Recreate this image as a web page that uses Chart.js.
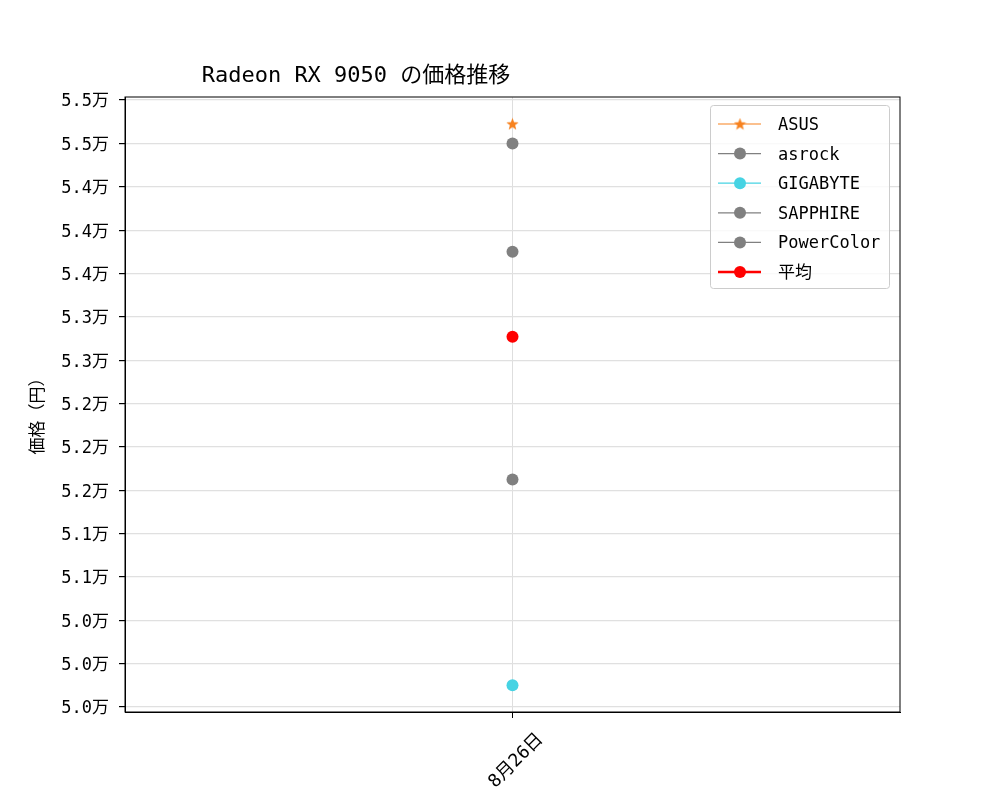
<!DOCTYPE html>
<html>
<head>
<meta charset="utf-8">
<script src="https://cdn.jsdelivr.net/npm/chart.js@4"></script>
<style>
  body { margin: 0; background: #fff; }
  #wrap { width: 1000px; height: 800px; }
</style>
</head>
<body>
<div id="wrap"><canvas id="priceChart" width="1000" height="800"></canvas></div>
<script>
// Chart data
const dates = ['8月26日'];
const makers = ['ASUS', 'asrock', 'GIGABYTE', 'SAPPHIRE', 'PowerColor'];
const asusPrices = [54980];
const asrockPrices = [54800];
const gigabytePrices = [49800];
const sapphirePrices = [53800];
const powercolorPrices = [51700];
const averagePrices = [53016];
const yTicks = [49600, 50000, 50400, 50800, 51200, 51600, 52000, 52400, 52800, 53200, 53600, 54000, 54400, 54800, 55200];

const FONT = '"DejaVu Sans Mono", "Noto Sans CJK JP", monospace';
const ORANGE = '#f7821f';
const GREY = '#808080';
const CYAN = '#46d3e3';
const RED = '#ff0000';

// filled star marker for ASUS
function makeStar(size, color) {
    const c = document.createElement('canvas');
    c.width = size; c.height = size;
    const g = c.getContext('2d');
    const cx = size / 2, cy = size / 2 + 0.5, R = size / 2, r = R * 0.42;
    g.beginPath();
    for (let i = 0; i < 10; i++) {
        const rad = i % 2 === 0 ? R : r;
        const a = -Math.PI / 2 + i * Math.PI / 5;
        g.lineTo(cx + rad * Math.cos(a), cy + rad * Math.sin(a));
    }
    g.closePath();
    g.fillStyle = color;
    g.fill();
    return c;
}
const starImg = makeStar(13, ORANGE);

function series(label, data, color, extra) {
    return Object.assign({
        label: label,
        data: data,
        borderColor: color,
        backgroundColor: color,
        pointBackgroundColor: color,
        pointBorderColor: color,
        pointRadius: 6,
        pointHoverRadius: 6,
        pointBorderWidth: 0,
        borderWidth: 1.2
    }, extra || {});
}

const datasets = [
    series(makers[0], asusPrices, ORANGE, { pointStyle: starImg }),
    series(makers[1], asrockPrices, GREY),
    series(makers[2], gigabytePrices, CYAN),
    series(makers[3], sapphirePrices, GREY),
    series(makers[4], powercolorPrices, GREY),
    series('平均', averagePrices, RED, { borderWidth: 2.5 })
];

// frame, title, y label, legend
const decorPlugin = {
    id: 'decor',
    afterDraw(chart) {
        const ctx = chart.ctx;
        const a = chart.chartArea;
        ctx.save();
        ctx.strokeStyle = '#000';
        ctx.lineWidth = 1;
        ctx.strokeRect(a.left, a.top, a.right - a.left, a.bottom - a.top);

        ctx.fillStyle = '#000';
        ctx.font = '22px ' + FONT;
        ctx.textAlign = 'center';
        ctx.textBaseline = 'alphabetic';
        ctx.fillText('Radeon RX 9050 の価格推移', 356, 82);

        ctx.save();
        ctx.translate(39, 412);
        ctx.rotate(-Math.PI / 2);
        ctx.font = '17px ' + FONT;
        ctx.textBaseline = 'middle';
        ctx.fillText('価格（円）', 0, 0);
        ctx.restore();

        // legend box
        const bx = 710.5, by = 105.5, bw = 179, bh = 183;
        ctx.beginPath();
        ctx.roundRect(bx, by, bw, bh, 3);
        ctx.fillStyle = 'rgba(255,255,255,0.8)';
        ctx.fill();
        ctx.strokeStyle = '#cccccc';
        ctx.lineWidth = 1;
        ctx.stroke();
        ctx.font = '17px ' + FONT;
        ctx.textAlign = 'left';
        ctx.textBaseline = 'middle';
        chart.data.datasets.forEach((ds, i) => {
            const y = 124 + i * 29.6;
            ctx.strokeStyle = ds.borderColor;
            ctx.lineWidth = ds.borderWidth;
            ctx.beginPath();
            ctx.moveTo(718, y);
            ctx.lineTo(761, y);
            ctx.stroke();
            if (ds.pointStyle === starImg) {
                ctx.drawImage(starImg, 740 - 6.5, y - 6.5);
            } else {
                ctx.beginPath();
                ctx.arc(740, y, 6, 0, Math.PI * 2);
                ctx.fillStyle = ds.pointBackgroundColor;
                ctx.fill();
            }
            ctx.fillStyle = '#000';
            ctx.fillText(ds.label, 778, y + 1.5);
        });
        ctx.restore();
    }
};

const ctx = document.getElementById('priceChart').getContext('2d');
new Chart(ctx, {
    type: 'line',
    data: { labels: dates, datasets: datasets },
    options: {
        responsive: false,
        animation: false,
        layout: { padding: { top: 97, right: 100, left: 0, bottom: 0 } },
        plugins: {
            legend: { display: false },
            title: { display: false },
            tooltip: { enabled: false }
        },
        scales: {
            x: {
                type: 'category',
                offset: true,
                afterFit(scale) { scale.height = 88; },
                grid: {
                    offset: false,
                    color: '#dedede',
                    lineWidth: 1,
                    tickColor: '#000',
                    tickLength: 6
                },
                border: { color: '#000', width: 1 },
                ticks: {
                    minRotation: 45,
                    maxRotation: 45,
                    labelOffset: 28,
                    padding: 11,
                    color: '#000',
                    font: { family: FONT, size: 18 }
                }
            },
            y: {
                min: 49554,
                max: 55228,
                afterFit(scale) { scale.width = 125; },
                afterBuildTicks(scale) {
                    scale.ticks = yTicks.map(v => ({ value: v }));
                },
                grid: {
                    color: '#e0e0e0',
                    lineWidth: 1.2,
                    borderDash: [1.5, 1],
                    tickColor: '#000',
                    tickLength: 6,
                    tickBorderDash: []
                },
                border: { color: '#000', width: 1 },
                ticks: {
                    color: '#000',
                    padding: 10,
                    labelOffset: 2,
                    font: { family: FONT, size: 17 },
                    callback: v => (v / 10000).toFixed(1) + '万'
                }
            }
        }
    },
    plugins: [decorPlugin]
});
</script>
</body>
</html>
